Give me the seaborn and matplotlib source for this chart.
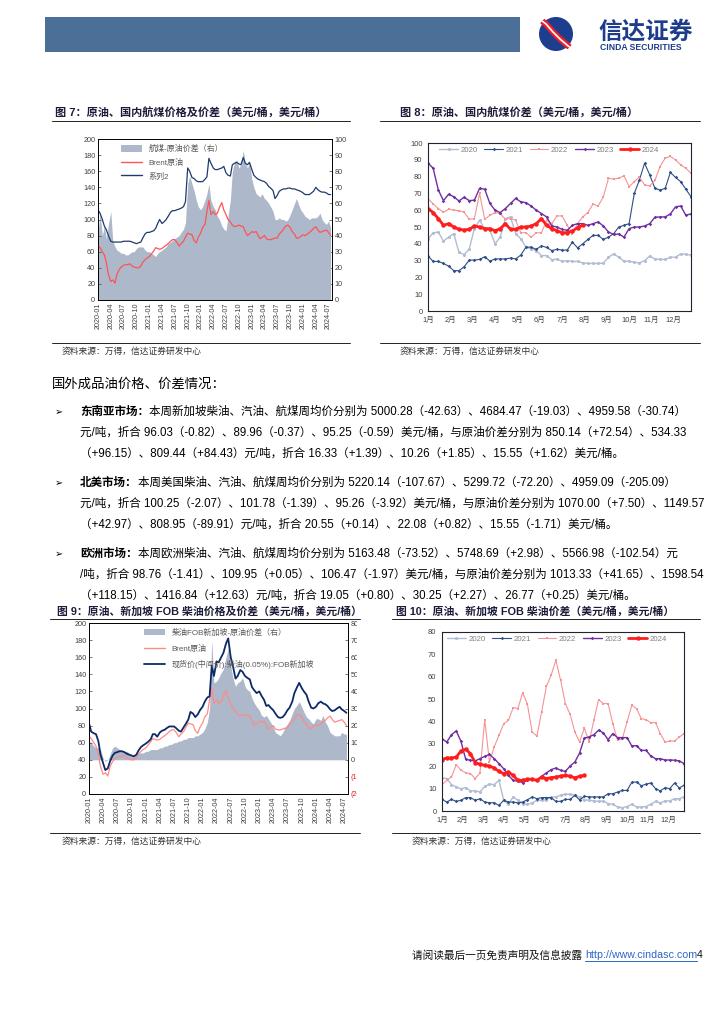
import numpy as np
import pandas as pd
import matplotlib
matplotlib.use("Agg")
import matplotlib.pyplot as plt
import matplotlib.dates as mdates
import seaborn as sns
from matplotlib.patches import Patch, Rectangle, Circle
from matplotlib.lines import Line2D
from matplotlib.transforms import Bbox

sns.set_theme(style="white")
plt.rcParams["font.family"] = ["Liberation Sans", "Noto Sans CJK SC", "DejaVu Sans"]
plt.rcParams["axes.unicode_minus"] = False

# ---------------- data ----------------
# semi-monthly samples, 2020-01 .. 2024-07
dates = pd.date_range("2020-01-01", periods=110, freq="SMS")

brent = [68, 65, 60, 56, 46, 32, 23, 25, 21, 32, 38, 41, 43, 44, 44, 45, 42, 41, 40, 40,
         42, 47, 50, 52, 54, 57, 61, 65, 64, 63, 64, 66, 68, 70, 73, 75, 75, 72, 67, 70,
         73, 78, 83, 82, 81, 74, 71, 78, 83, 90, 94, 110, 124, 106, 110, 106, 108, 115, 121, 112,
         106, 100, 97, 93, 91, 92, 93, 92, 91, 85, 80, 82, 85, 84, 85, 80, 76, 78, 80, 76,
         75, 75, 76, 77, 77, 82, 85, 88, 92, 93, 90, 85, 82, 77, 77, 79, 81, 80, 82, 84,
         86, 89, 91, 87, 84, 85, 86, 87, 84, 80]

jet_price = [112, 108, 100, 92, 87, 80, 73, 72, 72, 72, 72, 72, 73, 73, 73, 73, 72, 71, 70, 71,
             72, 77, 82, 84, 84, 85, 86, 89, 95, 100, 95, 97, 100, 104, 109, 111, 111, 112, 113, 114,
             116, 122, 164, 160, 152, 151, 148, 147, 147, 147, 150, 153, 176, 170, 164, 162, 162, 163, 164, 166,
             158, 155, 154, 168, 170, 171, 169, 168, 177, 170, 168, 171, 162, 155, 152, 150, 149, 148, 147, 145,
             141, 139, 136, 126, 130, 135, 137, 138, 138, 139, 139, 138, 138, 137, 136, 135, 133, 131, 131, 131,
             133, 135, 140, 137, 135, 134, 134, 133, 131, 131]

jet_spread = [41, 54, 40, 46, 38, 47, 55, 37, 33, 31, 30, 29, 29, 28, 28, 29, 30, 30, 32, 33,
              33, 33, 31, 30, 30, 29, 28, 27, 29, 30, 31, 32, 33, 35, 36, 37, 38, 39, 40, 42,
              44, 48, 72, 77, 72, 68, 62, 58, 56, 58, 62, 66, 72, 62, 58, 56, 52, 50, 46, 44,
              43, 52, 62, 80, 86, 87, 82, 84, 93, 85, 82, 86, 75, 70, 66, 65, 64, 66, 63, 62,
              60, 58, 55, 50, 50, 51, 50, 50, 49, 50, 53, 56, 60, 63, 59, 56, 54, 52, 51, 50,
              51, 51, 51, 52, 54, 50, 48, 47, 49, 45]

diesel_sg = [83, 73, 71, 70, 62, 46, 36, 28, 30, 38, 45, 48, 49, 50, 50, 49, 47, 46, 45, 44,
             46, 51, 55, 57, 59, 61, 64, 70, 70, 67, 72, 74, 75, 77, 79, 79, 79, 77, 74, 73,
             78, 82, 87, 96, 94, 90, 93, 98, 102, 108, 113, 114, 150, 138, 155, 154, 160, 165, 176, 182,
             160, 150, 135, 138, 145, 143, 138, 136, 134, 125, 121, 118, 120, 115, 110, 103, 104, 101, 98, 94,
             90, 89, 90, 93, 98, 101, 108, 118, 125, 130, 124, 120, 116, 108, 101, 100, 102, 106, 108, 106,
             105, 103, 99, 97, 98, 100, 102, 99, 97, 95]

diesel_spread = [11, 10, 8, 7, 7, 6, 1, -1, 0, 3, 7, 8, 7, 6, 5, 5, 5, 4, 2, 2,
                 3, 4, 4, 4, 5, 5, 6, 6, 6, 6, 7, 7, 8, 8, 9, 9, 10, 10, 11, 11,
                 12, 12, 13, 13, 13, 14, 14, 15, 16, 18, 22, 30, 70, 45, 46, 48, 51, 53, 60, 65,
                 55, 48, 43, 45, 46, 48, 43, 41, 40, 36, 33, 31, 29, 26, 25, 26, 24, 22, 19, 16,
                 15, 14, 16, 19, 21, 23, 27, 30, 32, 34, 31, 28, 25, 24, 22, 21, 24, 24, 23, 26,
                 22, 20, 16, 15, 14, 14, 14, 16, 15, 15]

# weekly seasonal spreads (week 1..52)
weeks = np.arange(52)
month_labels = ["1月", "2月", "3月", "4月", "5月", "6月", "7月", "8月", "9月", "10月", "11月", "12月"]
years = ["2020", "2021", "2022", "2023", "2024"]

jet_2020 = [43, 46.5, 47, 41.5, 44, 46, 35, 33.5, 37, 49, 54, 49, 48, 40, 44, 55, 56, 46, 43, 38,
            37, 36, 33, 33, 30.5, 31, 29.5, 30, 29.5, 29.5, 28.7, 28.3, 28.3, 28.3, 28.5, 32, 34, 32, 29.7, 29.7,
            29, 28.7, 30, 32.7, 31, 30.7, 30.7, 32, 32, 34, 33.7, 33.3]
jet_2021 = [32.7, 29.5, 29.5, 28.3, 26.7, 24, 24, 26.3, 30.3, 30.3, 30.7, 32.3, 29.7, 31, 31, 31, 31.5, 31, 33.3, 38,
            38, 36.7, 38.8, 37.8, 36, 36.7, 36.3, 36.3, 41, 37.6, 40, 42.6, 45, 45, 42.6, 44, 46, 50, 51, 52,
            70, 78, 88, 81, 73, 72, 73, 82.5, 79.5, 77, 72.5, 68]
jet_2022 = [67, 63.7, 61, 58.8, 60.5, 60, 59.8, 58.8, 54.6, 55, 70, 54.6, 57, 58.6, 58, 54.6, 55, 54, 46.6, 46.6,
            44, 46.6, 46.6, 54, 52, 56.6, 56.6, 51, 46, 52, 56, 58.6, 63.7, 62.5, 68, 79, 78.5, 79, 80.5, 74,
            77, 79.7, 75, 74.5, 77.7, 86, 91, 92, 90, 87, 85, 82]
jet_2023 = [88, 85, 72, 65.7, 69.5, 68, 65.5, 67.7, 65.7, 66, 73, 72.5, 64, 60, 58.6, 61, 64, 67, 65, 64.5,
            62.5, 60, 58, 56, 50.6, 50, 48.6, 48, 51, 52, 52, 51, 52, 53, 50.6, 47, 45.6, 45.8, 44, 49,
            50, 50, 50.6, 52, 55.8, 56, 56, 57.8, 62, 62.5, 57, 57.8]
jet_2024 = [61, 58.6, 55, 51, 52, 50, 48.6, 48.2, 48.6, 50.6, 50, 49, 49, 47.8, 49, 52, 48.6, 48.6, 50, 50,
            50.6, 52, 55, 51, 49, 47.8, 46.6, 46.6, 47.6, 49.6, 51]

dsl_2020 = [14.8, 14.5, 11.8, 10.7, 10, 10.4, 9, 9, 8.5, 11, 12, 11.8, 13.7, 4.8, 3, 6.3, 4.8, 3.3, 3, 3.6,
            4.8, 4.8, 5, 6.3, 6.3, 7, 7.5, 7.5, 7, 6.3, 5, 4.8, 4.5, 4.3, 4.5, 3.3, 3, 1.8, 1.5, 2,
            3, 1.8, 1.8, 2, 3, 4.3, 3.6, 4.5, 4.5, 5.5, 5.5, 6.3]
dsl_2021 = [5.2, 4, 5.2, 4.3, 4.8, 6, 6, 4.8, 5.5, 4, 3.7, 3.7, 2.5, 4.8, 4, 4, 3.6, 4, 5, 6.3,
            5.5, 6, 6, 6, 4.3, 4.3, 5.2, 5.2, 7, 5, 6.6, 6.3, 6.3, 6.3, 6.3, 7.7, 7.7, 8.5, 9.2, 9.2,
            12.8, 13, 11.3, 12, 12.5, 10, 9, 10.4, 10, 12.5, 10.3, 11.5]
dsl_2022 = [11.8, 13.7, 15.2, 20.7, 18.2, 17.1, 16.7, 14.5, 17, 40.8, 21.9, 28.6, 33.8, 39, 40.5, 46.2, 45.8, 52.9, 47.7, 35.3,
            33.5, 44.3, 55.7, 60.7, 67.4, 58.4, 48, 43.2, 35.3, 30.8, 37.1, 30.8, 40.5, 49.8, 48, 48, 39, 31.6, 32.3, 39.8,
            47.2, 45.8, 41.3, 40.8, 39.5, 39.5, 34.6, 30.8, 31.3, 31.3, 33, 34.6]
dsl_2023 = [32.3, 30.8, 34.1, 35.8, 31.1, 23.1, 22.7, 22.4, 23.4, 24.4, 25.3, 23.4, 21.2, 18.9, 15.9, 13.7, 13.3, 12.7, 13.7, 14.5,
            13.7, 15.5, 17, 18.5, 19.2, 18.2, 17.7, 20.1, 21.9, 25.9, 32.6, 33.1, 34.1, 36.1, 34.9, 31.9, 34.6, 32.8, 32.8, 32.8,
            29.1, 29.2, 27.1, 27.1, 24.6, 23.4, 23.4, 22.8, 22.8, 22.7, 22.4, 21.2]
dsl_2024 = [23, 23.7, 23.7, 24.1, 26.8, 27.6, 25.6, 21.6, 20.9, 20.4, 20.1, 19.2, 17.7, 16.7, 17.4, 15.9, 13.7, 13.7, 14.2, 14.2,
            13.7, 15.2, 14.5, 14.9, 15.2, 15.6, 15.9, 15.6, 14.8, 15.5, 15.9]

year_styles = {
    "2020": dict(color="#b1bdd2", lw=1.0, marker="o", markersize=2.2),
    "2021": dict(color="#2f4f86", lw=0.8, marker="D", markersize=1.8),
    "2022": dict(color="#f59494", lw=0.8, marker="s", markersize=1.8),
    "2023": dict(color="#7030a0", lw=1.0, marker="D", markersize=1.8),
    "2024": dict(color="#ff1e1e", lw=2.0, marker="o", markersize=3.2),
}

TICK = "#404040"
GRAY_AREA = "#adb8ca"

fig = plt.figure(figsize=(7.24, 10.24), dpi=100)
bg = fig.add_axes([0, 0, 1, 1])
bg.set_xlim(0, 724)
bg.set_ylim(1024, 0)
bg.axis("off")


def px_axes(x0, y0, x1, y1):
    return fig.add_axes([x0 / 724, 1 - y1 / 1024, (x1 - x0) / 724, (y1 - y0) / 1024])


def frame(ax, color="black", lw=0.6):
    for s in ax.spines.values():
        s.set_visible(True)
        s.set_color(color)
        s.set_linewidth(lw)


def date_axis(ax, right):
    ax.set_xlim(dates[0], pd.Timestamp(right))
    ax.xaxis.set_major_locator(mdates.MonthLocator(bymonth=[1, 4, 7, 10]))
    ax.xaxis.set_major_formatter(mdates.DateFormatter("%Y-%m"))
    for lab in ax.get_xticklabels():
        lab.set_rotation(90)
    ax.set_xlabel("")
    ax.set_ylabel("")


# ---------------- header ----------------
bg.add_patch(Rectangle((45, 17), 475, 35, color="#4b6f97", lw=0))
logo = Circle((556, 34), 17, color="#1d3d8e", lw=0)
bg.add_patch(logo)
band_x = [537, 546, 553, 560, 567, 573]
band_y = [17, 24, 32, 39, 45, 50]
red_band = bg.plot(band_x, band_y, color="#e8202a", lw=4.5, solid_capstyle="butt")[0]
white_band = bg.plot(band_x, band_y, color="white", lw=1.2, solid_capstyle="butt")[0]
bg.text(598, 32, "信达证券", fontsize=17, fontweight="bold", color="#1e3c8c", va="center", ha="left")
bg.text(600, 47.5, "CINDA SECURITIES", fontsize=6.2, fontweight="bold", color="#1e3c8c", va="center", ha="left")

# ---------------- titles / sources ----------------
TITLE = "#1c1c3a"
bg.text(55, 113, "图 7：原油、国内航煤价格及价差（美元/桶，美元/桶）", fontsize=8, fontweight="bold", color=TITLE, va="center")
bg.text(400, 113, "图 8：原油、国内航煤价差（美元/桶，美元/桶）", fontsize=8, fontweight="bold", color=TITLE, va="center")
bg.text(57, 612, "图 9：原油、新加坡 FOB 柴油价格及价差（美元/桶，美元/桶）", fontsize=7.8, fontweight="bold", color=TITLE, va="center")
bg.text(396, 612, "图 10：原油、新加坡 FOB 柴油价差（美元/桶，美元/桶）", fontsize=7.8, fontweight="bold", color=TITLE, va="center")
for x0, x1, y in [(52, 350, 121), (380, 700, 121), (52, 350, 343), (380, 700, 343),
                  (50, 360, 619), (392, 700, 619), (50, 360, 833), (392, 700, 833)]:
    bg.plot([x0, x1], [y, y], color="#222222", lw=0.7)
for x, y in [(62, 351), (400, 351), (62, 841), (412, 841)]:
    bg.text(x, y, "资料来源：万得，信达证券研发中心", fontsize=6.3, color="#333333", va="center")

# ---------------- body text ----------------
renderer = fig.canvas.get_renderer()
bg.text(52, 385, "国外成品油价格、价差情况：", fontsize=9.6, color="black", va="center")

paragraphs = [
    ("东南亚市场：",
     ["本周新加坡柴油、汽油、航煤周均价分别为 5000.28（-42.63）、4684.47（-19.03）、4959.58（-30.74）",
      "元/吨，折合 96.03（-0.82）、89.96（-0.37）、95.25（-0.59）美元/桶，与原油价差分别为 850.14（+72.54）、534.33",
      "（+96.15）、809.44（+84.43）元/吨，折合 16.33（+1.39）、10.26（+1.85）、15.55（+1.62）美元/桶。"], 412),
    ("北美市场：",
     ["本周美国柴油、汽油、航煤周均价分别为 5220.14（-107.67）、5299.72（-72.20）、4959.09（-205.09）",
      "元/吨，折合 100.25（-2.07）、101.78（-1.39）、95.26（-3.92）美元/桶，与原油价差分别为 1070.00（+7.50）、1149.57",
      "（+42.97）、808.95（-89.91）元/吨，折合 20.55（+0.14）、22.08（+0.82）、15.55（-1.71）美元/桶。"], 483),
    ("欧洲市场：",
     ["本周欧洲柴油、汽油、航煤周均价分别为 5163.48（-73.52）、5748.69（+2.98）、5566.98（-102.54）元",
      "/吨，折合 98.76（-1.41）、109.95（+0.05）、106.47（-1.97）美元/桶，与原油价差分别为 1013.33（+41.65）、1598.54",
      "（+118.15）、1416.84（+12.63）元/吨，折合 19.05（+0.80）、30.25（+2.27）、26.77（+0.25）美元/桶。"], 554),
]
for head, lines, y0 in paragraphs:
    bg.text(55, y0, "➢", fontsize=7, color="black", va="center")
    t = bg.text(80, y0, head, fontsize=8.3, fontweight="bold", color="black", va="center")
    x_next = t.get_window_extent(renderer).x1
    bg.text(x_next, y0, lines[0], fontsize=8.3, color="black", va="center")
    for i, line in enumerate(lines[1:]):
        bg.text(80, y0 + 21 * (i + 1), line, fontsize=8.3, color="black", va="center")

# ---------------- footer ----------------
t = bg.text(412, 955, "请阅读最后一页免责声明及信息披露 ", fontsize=7.7, color="#111111", va="center")
xu = t.get_window_extent(renderer).x1
u = bg.text(xu, 955, "http://www.cindasc.com", fontsize=7.7, color="#2a66c8", va="center")
ub = u.get_window_extent(renderer)
bg.plot([ub.x0, ub.x1], [961, 961], color="#2a66c8", lw=0.7)
bg.text(ub.x1, 955, "4", fontsize=7.7, color="#111111", va="center")

# ---------------- figure 7 ----------------
ax7 = px_axes(98, 139, 332, 300)
ax7r = ax7.twinx()
ax7r.fill_between(dates, 0, jet_spread, color=GRAY_AREA, lw=0)
ax7r.set_ylim(0, 100)
ax7r.set_yticks(np.arange(0, 101, 10))
sns.lineplot(x=dates, y=brent, ax=ax7, color="#ff5454", lw=0.9)
sns.lineplot(x=dates, y=jet_price, ax=ax7, color="#1f3b6e", lw=0.9)
ax7.set_ylim(0, 200)
ax7.set_yticks(np.arange(0, 201, 20))
date_axis(ax7, "2024-07-25")
ax7.set_zorder(ax7r.get_zorder() + 1)
ax7.patch.set_visible(False)
for a in (ax7, ax7r):
    frame(a)
    a.tick_params(labelsize=5.2, colors=TICK, length=2, width=0.5, direction="in", pad=2)
ax7.legend(handles=[Patch(facecolor=GRAY_AREA, lw=0), Line2D([], [], color="#ff5454", lw=1),
                    Line2D([], [], color="#1f3b6e", lw=1)],
           labels=["航煤-原油价差（右）", "Brent原油", "系列2"], loc="upper left",
           bbox_to_anchor=(0.075, 1.0), frameon=False, fontsize=5.8, labelcolor="#595959",
           handlelength=2.6, handleheight=0.9, labelspacing=0.7, borderaxespad=0.3)

# ---------------- figure 8 ----------------
ax8 = px_axes(428, 143, 691, 311)
for yr, vals in zip(years, [jet_2020, jet_2021, jet_2022, jet_2023, jet_2024]):
    sns.lineplot(x=weeks[:len(vals)], y=vals, ax=ax8, label=yr, markeredgewidth=0, **year_styles[yr])
ax8.set_xlim(0, 51)
ax8.set_ylim(0, 100)
ax8.set_yticks(np.arange(0, 101, 10))
ax8.set_xticks(np.arange(12) * 52 / 12)
ax8.set_xticklabels(month_labels)
frame(ax8, "#222233", 0.8)
ax8.tick_params(labelsize=5.4, colors=TICK, length=0, pad=4)
ax8.legend(loc="upper center", bbox_to_anchor=(0.46, 1.02), ncol=5, frameon=False, fontsize=5.6,
           labelcolor="#7f7f7f", handlelength=2.4, columnspacing=0.9, handletextpad=0.3)

# ---------------- figure 9 ----------------
ax9 = px_axes(89, 623, 348, 794)
ax9r = ax9.twinx()
ax9r.fill_between(dates, 0, diesel_spread, color=GRAY_AREA, lw=0)
ax9r.set_ylim(-20, 80)
ax9r.set_yticks(np.arange(-20, 81, 10))
ax9r.set_yticklabels(["(20)", "(10)"] + [str(v) for v in range(0, 81, 10)])
sns.lineplot(x=dates, y=brent, ax=ax9, color="#ff8a8a", lw=0.9)
sns.lineplot(x=dates, y=diesel_sg, ax=ax9, color="#0d2a68", lw=1.3)
ax9.set_ylim(0, 200)
ax9.set_yticks(np.arange(0, 201, 20))
date_axis(ax9, "2024-07-25")
ax9.set_zorder(ax9r.get_zorder() + 1)
ax9.patch.set_visible(False)
for a in (ax9, ax9r):
    frame(a)
    a.tick_params(labelsize=5.2, colors=TICK, length=2, width=0.5, direction="in", pad=2)
clip = Bbox.from_extents(0, 0, 357, 1024)
for lab in ax9r.get_yticklabels():
    if lab.get_text().startswith("("):
        lab.set_color("#e02020")
    lab.set_clip_on(True)
    lab.set_clip_box(clip)
ax9.legend(handles=[Patch(facecolor=GRAY_AREA, lw=0), Line2D([], [], color="#ff8a8a", lw=1),
                    Line2D([], [], color="#0d2a68", lw=1.3)],
           labels=["柴油FOB新加坡-原油价差（右）", "Brent原油", "现货价(中间价):柴油(0.05%):FOB新加坡"],
           loc="upper left", bbox_to_anchor=(0.19, 1.0), frameon=False, fontsize=5.8,
           labelcolor="#595959", handlelength=2.6, handleheight=0.9, labelspacing=0.95, borderaxespad=0.3)

# ---------------- figure 10 ----------------
ax10 = px_axes(442, 632, 684, 811)
for yr, vals in zip(years, [dsl_2020, dsl_2021, dsl_2022, dsl_2023, dsl_2024]):
    sns.lineplot(x=weeks[:len(vals)], y=vals, ax=ax10, label=yr, markeredgewidth=0, **year_styles[yr])
ax10.set_xlim(0, 51)
ax10.set_ylim(0, 80)
ax10.set_yticks(np.arange(0, 81, 10))
ax10.set_xticks(np.arange(12) * 52 / 12)
ax10.set_xticklabels(month_labels)
frame(ax10, "#222233", 0.8)
ax10.tick_params(labelsize=5.4, colors=TICK, length=0, pad=4)
ax10.legend(loc="upper center", bbox_to_anchor=(0.475, 1.02), ncol=5, frameon=False, fontsize=5.6,
            labelcolor="#7f7f7f", handlelength=2.4, columnspacing=0.9, handletextpad=0.3)

# keep the logo band inside the circle like the printed mark
red_band.set_clip_path(Circle((556, 34), 19, transform=bg.transData))
white_band.set_clip_path(Circle((556, 34), 19, transform=bg.transData))

fig.savefig("out.png", dpi=100)
